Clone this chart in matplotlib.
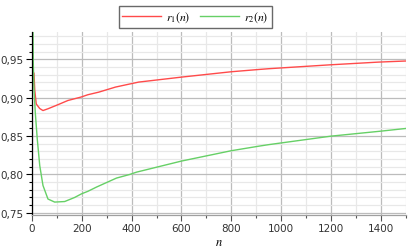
import matplotlib
matplotlib.use('Agg')
import matplotlib.pyplot as plt
from matplotlib.ticker import MultipleLocator, FuncFormatter

plt.rcParams['mathtext.fontset'] = 'stix'
plt.rcParams['font.family'] = 'DejaVu Sans'

# values
n1 = [8, 11, 17, 31, 44, 64, 104, 144, 197, 224, 268, 335, 392, 428, 600, 800, 912,
      952, 1195, 1392, 1500]
r1 = [0.932, 0.910, 0.892, 0.886, 0.8834, 0.8857, 0.891, 0.8965, 0.901, 0.904, 0.9074,
      0.914, 0.918, 0.9205, 0.927, 0.934, 0.937, 0.938, 0.943, 0.9466, 0.948]

n2 = [3, 5, 8, 13, 21, 31, 44, 64, 91, 131, 171, 199, 224, 259, 339, 392, 419, 600,
      800, 912, 952, 1200, 1400, 1500]
r2 = [1.02, 0.9466, 0.9118, 0.8813, 0.8465, 0.8117, 0.7857, 0.768, 0.764, 0.7647,
      0.770, 0.7748, 0.778, 0.7836, 0.7953, 0.800, 0.803, 0.8175, 0.831, 0.837, 0.839,
      0.850, 0.8565, 0.860]

fig = plt.figure(figsize=(4.12, 2.51), dpi=100)
ax = fig.add_axes([0.0777, 0.139, 0.907, 0.730])

l1, = ax.plot(n1, r1, color='#ff4a4a', lw=1.0, label=r'$r_1(n)$')
l2, = ax.plot(n2, r2, color='#66d066', lw=1.0, label=r'$r_2(n)$')

ax.set_xlim(0, 1500)
ax.set_ylim(0.747, 0.986)

ax.xaxis.set_major_locator(MultipleLocator(200))
ax.xaxis.set_minor_locator(MultipleLocator(100))
ax.yaxis.set_major_locator(MultipleLocator(0.05))
ax.yaxis.set_minor_locator(MultipleLocator(0.01))
ax.yaxis.set_major_formatter(FuncFormatter(lambda v, p: f'{v:.2f}'.replace('.', ',')))

ax.grid(which='major', color='#bcbcbc', lw=0.9)
ax.grid(which='minor', color='#e8e8e8', lw=0.9)
ax.set_axisbelow(True)

for s in ['top', 'right']:
    ax.spines[s].set_visible(False)
ax.spines['left'].set_color('black')
ax.spines['bottom'].set_color('#a0a0a0')
ax.spines['left'].set_linewidth(0.9)
ax.spines['bottom'].set_linewidth(0.9)

ax.tick_params(which='major', length=4, width=0.8, labelsize=7.5, labelcolor='#333333',
               pad=2)
ax.tick_params(which='minor', length=2, width=0.8)
ax.tick_params(axis='x', which='both', colors='#555555', labelcolor='#333333')

ax.set_xlabel(r'$n$', fontsize=9, labelpad=1)

fig.legend(handles=[l1, l2], loc='center', bbox_to_anchor=(0.474, 0.928), ncol=2,
           frameon=True, fancybox=False, edgecolor='#444444', fontsize=8.5,
           handlelength=3.3, handletextpad=0.4, columnspacing=0.8,
           borderpad=0.3, borderaxespad=0)

fig.savefig('out.png', dpi=100)
